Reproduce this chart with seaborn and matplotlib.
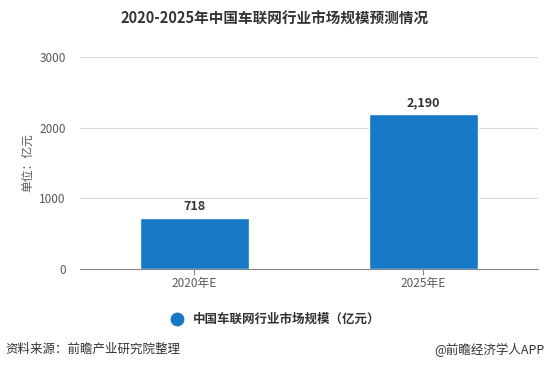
import matplotlib
matplotlib.use('Agg')
import matplotlib.pyplot as plt
import pandas as pd
import seaborn as sns

# Data
years = ['2020年E', '2025年E']
values = [718, 2190]
value_labels = ['718', '2,190']

df = pd.DataFrame({'year': years, 'value': values})

sns.set_style('white')
plt.rcParams['font.family'] = ['Noto Sans CJK SC', 'DejaVu Sans']

fig = plt.figure(figsize=(5.5, 3.7), dpi=100)
ax = fig.add_axes([0.145, 0.273, 0.833, 0.573])

bar_color = '#1779c6'
sns.barplot(x='year', y='value', data=df, color=bar_color, width=0.475,
            saturation=1, ax=ax, zorder=3)

ax.set_ylim(0, 3000)
ax.set_yticks([0, 1000, 2000, 3000])
ax.set_xlim(-0.5, 1.5)
ax.yaxis.grid(True, color='#d9d9d9', linewidth=0.8, zorder=0)
ax.xaxis.grid(False)
for s in ['top', 'right', 'left']:
    ax.spines[s].set_visible(False)
ax.spines['bottom'].set_color('#888888')
ax.spines['bottom'].set_linewidth(0.8)
ax.tick_params(axis='y', length=0, labelsize=8.5, labelcolor='#595959', pad=10)
ax.tick_params(axis='x', length=4, color='#888888', labelsize=8.5,
               labelcolor='#595959', bottom=True, pad=2)
ax.set_xlabel('')
ax.set_ylabel('单位：亿元', fontsize=8.5, color='#595959', labelpad=4)

for i, (v, lab) in enumerate(zip(values, value_labels)):
    ax.text(i, v + 70, lab, ha='center', va='bottom', fontsize=9,
            fontweight='bold', color='#333333')

fig.text(0.5, 0.95, '2020-2025年中国车联网行业市场规模预测情况', ha='center',
         va='center', fontsize=10.5, fontweight='bold', color='#333333')

# Legend
ax.scatter([], [], s=80, color=bar_color, label='中国车联网行业市场规模（亿元）')
leg = ax.legend(loc='center', bbox_to_anchor=(0.42, -0.235), frameon=False,
                fontsize=9, handletextpad=0.3, scatterpoints=1)
for t in leg.get_texts():
    t.set_color('#333333')
    t.set_fontweight('bold')

fig.text(0.01, 0.055, '资料来源：前瞻产业研究院整理', ha='left', va='center',
         fontsize=9, color='#333333')
fig.text(0.99, 0.055, '@前瞻经济学人APP', ha='right', va='center',
         fontsize=9, color='#333333')

fig.savefig('out.png', dpi=100)
